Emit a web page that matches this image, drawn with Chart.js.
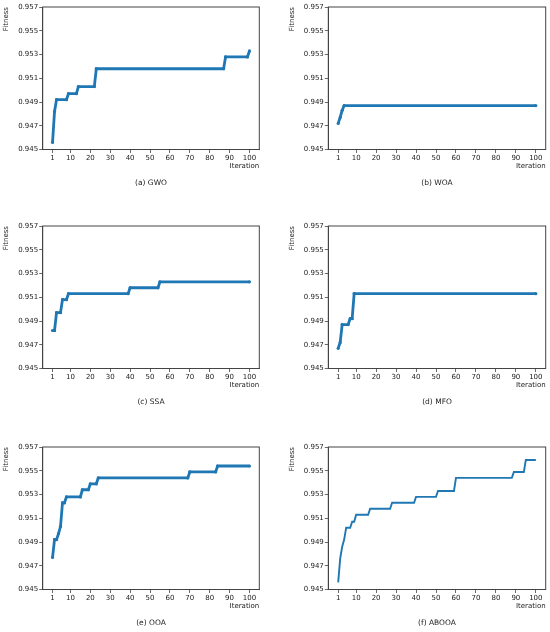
<!DOCTYPE html>
<html>
<head>
<meta charset="utf-8">
<title>Fitness curves</title>
<script src="https://cdn.jsdelivr.net/npm/chart.js@4.4.1/dist/chart.umd.min.js"></script>
<style>
  html, body { margin: 0; padding: 0; background: #fff; }
  #wrap { position: relative; width: 550px; height: 632px; overflow: hidden; }
  #wrap canvas { position: absolute; }
</style>
</head>
<body>
<div id="wrap"></div>
<script>
// tick labels
const xTicks = [1, 10, 20, 30, 40, 50, 60, 70, 80, 90, 100];
const yTicks = [0.945, 0.947, 0.949, 0.951, 0.953, 0.955, 0.957];

// each series: iterations where the curve changes, and the fitness there
const gwoIter = [1, 2, 3, 8, 9, 13, 14, 22, 23, 87, 88, 99, 100];
const gwoFit  = [0.9456, 0.9482, 0.9492, 0.9492, 0.9497, 0.9497, 0.9503, 0.9503, 0.9518, 0.9518, 0.9528, 0.9528, 0.9533];

const woaIter = [1, 2, 3, 4, 100];
const woaFit  = [0.9472, 0.9477, 0.9483, 0.9487, 0.9487];

const ssaIter = [1, 2, 3, 5, 6, 8, 9, 39, 40, 54, 55, 100];
const ssaFit  = [0.9482, 0.9482, 0.9497, 0.9497, 0.9508, 0.9508, 0.9513, 0.9513, 0.9518, 0.9518, 0.9523, 0.9523];

const mfoIter = [1, 2, 3, 6, 7, 8, 9, 100];
const mfoFit  = [0.9467, 0.9472, 0.9487, 0.9487, 0.9492, 0.9492, 0.9513, 0.9513];

const ooaIter = [1, 2, 3, 4, 5, 6, 7, 8, 15, 16, 19, 20, 23, 24, 69, 70, 83, 84, 100];
const ooaFit  = [0.9477, 0.9492, 0.9492, 0.9497, 0.9503, 0.9523, 0.9523, 0.9528, 0.9528, 0.9534, 0.9534, 0.9539, 0.9539, 0.9544, 0.9544, 0.9549, 0.9549, 0.9554, 0.9554];

const abooaIter = [1, 2, 3, 4, 5, 7, 8, 9, 10, 16, 17, 27, 28, 39, 40, 50, 51, 59, 60, 88, 89, 94, 95, 100];
const abooaFit  = [0.9456, 0.9476, 0.9486, 0.9492, 0.9502, 0.9502, 0.9507, 0.9507, 0.9513, 0.9513, 0.9518, 0.9518, 0.9523, 0.9523, 0.9528, 0.9528, 0.9533, 0.9533, 0.9544, 0.9544, 0.9549, 0.9549, 0.9559, 0.9559];

const panels = [
  { caption: '(a) GWO',   iter: gwoIter,   fit: gwoFit,   markers: true },
  { caption: '(b) WOA',   iter: woaIter,   fit: woaFit,   markers: true },
  { caption: '(c) SSA',   iter: ssaIter,   fit: ssaFit,   markers: true },
  { caption: '(d) MFO',   iter: mfoIter,   fit: mfoFit,   markers: true },
  { caption: '(e) OOA',   iter: ooaIter,   fit: ooaFit,   markers: true },
  { caption: '(f) ABOOA', iter: abooaIter, fit: abooaFit, markers: false }
];

const FONT = 'DejaVu Sans, Verdana, sans-serif';
const TEXT = '#222';
const AXIS = '#444';
const BLUE = '#1f77b4';

// per column / row placement
const colLeft = [0, 275];
const colAxisW = [42.7, 53.3];
const colPadRight = [15.7, 4.3];
const colTitlePad = [2.3, 12.8];
const rowTop = [0, 219, 440];

// frame around the plot area (matplotlib style box)
const framePlugin = {
  id: 'frame',
  afterDraw(chart) {
    const a = chart.chartArea;
    const ctx = chart.ctx;
    ctx.save();
    ctx.strokeStyle = AXIS;
    ctx.lineWidth = 1;
    ctx.strokeRect(a.left, a.top, a.right - a.left, a.bottom - a.top);
    ctx.restore();
  }
};

const wrap = document.getElementById('wrap');

panels.forEach((p, i) => {
  const col = i % 2;
  const row = Math.floor(i / 2);

  const canvas = document.createElement('canvas');
  canvas.width = 275;
  canvas.height = 190;
  canvas.style.width = '275px';
  canvas.style.height = '190px';
  canvas.style.left = colLeft[col] + 'px';
  canvas.style.top = rowTop[row] + 'px';
  wrap.appendChild(canvas);

  const points = p.iter.map((x, k) => ({ x: x, y: p.fit[k] }));

  new Chart(canvas.getContext('2d'), {
    type: 'line',
    data: {
      datasets: [{
        data: points,
        borderColor: BLUE,
        backgroundColor: BLUE,
        borderWidth: p.markers ? 2.8 : 1.9,
        pointRadius: p.markers ? 1.6 : 0,
        pointBorderWidth: 0,
        pointHoverRadius: 0,
        tension: 0,
        fill: false
      }]
    },
    options: {
      responsive: false,
      animation: false,
      events: [],
      layout: { padding: { top: 7, left: 0, right: colPadRight[col], bottom: 2.5 } },
      plugins: {
        legend: { display: false },
        tooltip: { enabled: false },
        title: {
          display: true,
          text: p.caption,
          position: 'bottom',
          fullSize: false,
          color: TEXT,
          font: { family: FONT, size: 7.5, weight: 'normal', lineHeight: 1.2 },
          padding: { top: 5, bottom: 0 }
        }
      },
      scales: {
        x: {
          type: 'linear',
          min: -3.95,
          max: 104.95,
          afterBuildTicks: s => { s.ticks = xTicks.map(v => ({ value: v })); },
          afterFit: s => { s.height = 24; },
          ticks: {
            color: TEXT,
            padding: 1,
            maxRotation: 0,
            autoSkip: false,
            font: { family: FONT, size: 7 },
            callback: v => String(v)
          },
          grid: { display: true, drawOnChartArea: false, drawTicks: true, tickLength: 3.5, color: AXIS, lineWidth: 0.8 },
          border: { display: true, color: AXIS, width: 1 },
          title: {
            display: true,
            text: 'Iteration',
            align: 'end',
            color: TEXT,
            font: { family: FONT, size: 7, lineHeight: 1.2 },
            padding: { top: 0, bottom: 3.3 }
          }
        },
        y: {
          type: 'linear',
          min: 0.945,
          max: 0.957,
          afterBuildTicks: s => { s.ticks = yTicks.map(v => ({ value: v })); },
          afterFit: s => { s.width = colAxisW[col]; },
          ticks: {
            color: TEXT,
            padding: 1,
            autoSkip: false,
            font: { family: FONT, size: 7 },
            callback: v => v.toFixed(3)
          },
          grid: { display: true, drawOnChartArea: false, drawTicks: true, tickLength: 3.5, color: AXIS, lineWidth: 0.8 },
          border: { display: true, color: AXIS, width: 1 },
          title: {
            display: true,
            text: 'Fitness',
            align: 'end',
            color: TEXT,
            font: { family: FONT, size: 7, lineHeight: 1.2 },
            padding: { top: colTitlePad[col], bottom: 0 }
          }
        }
      }
    },
    plugins: [framePlugin]
  });
});
</script>
</body>
</html>
